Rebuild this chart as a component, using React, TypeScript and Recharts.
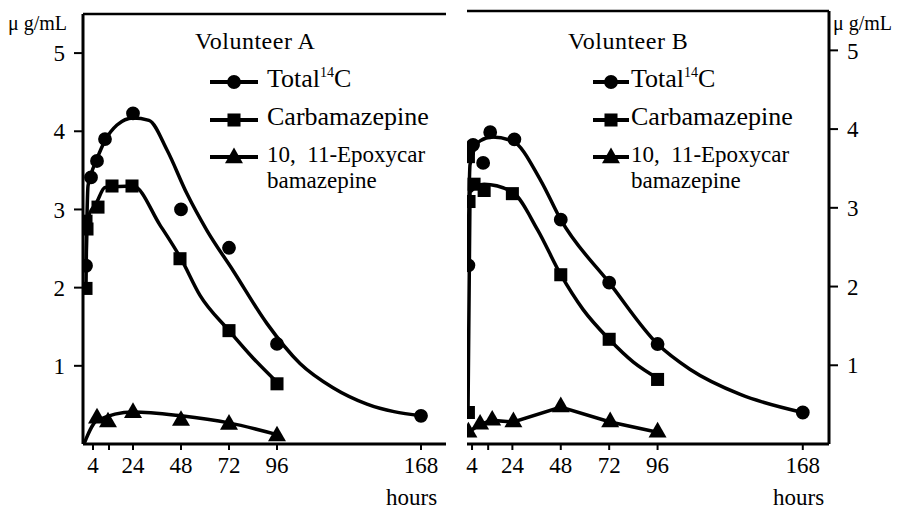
import { ComposedChart, Line, Scatter, Symbols, XAxis, YAxis } from "recharts";

const hourTicks = [4, 12, 24, 48, 72, 96, 168];
const concTicks = [1, 2, 3, 4, 5];

// Volunteer A – measured points (hours, µg/mL)
const totalA = [
  { t: 0.5, v: 2.28 }, { t: 3, v: 3.41 }, { t: 6, v: 3.62 }, { t: 10, v: 3.9 },
  { t: 24, v: 4.23 }, { t: 48, v: 3.0 }, { t: 72, v: 2.51 }, { t: 96, v: 1.28 },
  { t: 168, v: 0.36 },
];
const carbA = [
  { t: 0.5, v: 1.99 }, { t: 0.5, v: 2.85 }, { t: 1, v: 2.75 }, { t: 6.5, v: 3.03 },
  { t: 13.5, v: 3.3 }, { t: 23.5, v: 3.3 }, { t: 47.5, v: 2.37 }, { t: 72, v: 1.45 },
  { t: 96, v: 0.77 },
];
const epoxA = [
  { t: 6, v: 0.33 }, { t: 11.5, v: 0.28 }, { t: 24, v: 0.4 }, { t: 48, v: 0.3 },
  { t: 72, v: 0.25 }, { t: 96, v: 0.1 },
];
// Volunteer A – fitted curves
const totalFitA = [
  { t: 0.5, v: 2.28 }, { t: 1.5, v: 3.3 }, { t: 3, v: 3.45 }, { t: 6, v: 3.65 },
  { t: 10, v: 3.88 }, { t: 16, v: 4.08 }, { t: 24, v: 4.17 }, { t: 32, v: 4.14 },
  { t: 41, v: 3.76 }, { t: 51, v: 3.2 }, { t: 61, v: 2.73 }, { t: 74, v: 2.22 },
  { t: 91, v: 1.54 }, { t: 107.5, v: 1.03 }, { t: 124, v: 0.72 }, { t: 141, v: 0.51 },
  { t: 168, v: 0.36 },
];
const carbFitA = [
  { t: 0.5, v: 2.0 }, { t: 1, v: 2.85 }, { t: 6, v: 3.1 }, { t: 10, v: 3.28 },
  { t: 24, v: 3.3 }, { t: 37.5, v: 2.8 }, { t: 48, v: 2.37 },
  { t: 57.5, v: 1.9 }, { t: 72, v: 1.45 }, { t: 84, v: 1.1 }, { t: 96, v: 0.79 },
];
const epoxFitA = [
  { t: -0.5, v: 0.0 }, { t: 6, v: 0.3 }, { t: 24, v: 0.41 }, { t: 48, v: 0.36 },
  { t: 72, v: 0.27 }, { t: 96, v: 0.12 },
];

// Volunteer B – measured points
const totalB = [
  { t: 2.2, v: 2.27 }, { t: 2, v: 3.7 }, { t: 4.5, v: 3.8 }, { t: 9.5, v: 3.57 },
  { t: 13, v: 3.96 }, { t: 25, v: 3.87 }, { t: 48, v: 2.85 }, { t: 72, v: 2.05 },
  { t: 96, v: 1.27 }, { t: 168, v: 0.4 },
];
const carbB = [
  { t: 2.2, v: 0.4 }, { t: 2.5, v: 3.08 }, { t: 2.2, v: 3.65 }, { t: 5, v: 3.3 },
  { t: 10, v: 3.22 }, { t: 24, v: 3.18 }, { t: 48, v: 2.15 }, { t: 72, v: 1.33 },
  { t: 96, v: 0.82 },
];
const epoxB = [
  { t: 2.2, v: 0.15 }, { t: 8, v: 0.25 }, { t: 14, v: 0.3 }, { t: 24.5, v: 0.28 },
  { t: 48, v: 0.47 }, { t: 72.5, v: 0.28 }, { t: 96, v: 0.15 },
];
// Volunteer B – fitted curves
const totalFitB = [
  { t: 2, v: 2.27 }, { t: 3, v: 3.55 }, { t: 8, v: 3.85 }, { t: 14, v: 3.9 },
  { t: 24, v: 3.85 }, { t: 38, v: 3.35 }, { t: 48, v: 2.85 }, { t: 72, v: 2.05 },
  { t: 96, v: 1.27 }, { t: 112, v: 0.95 }, { t: 137, v: 0.63 }, { t: 168, v: 0.4 },
];
const carbFitB = [
  { t: 2, v: 0.4 }, { t: 3, v: 3.2 }, { t: 10, v: 3.3 }, { t: 24, v: 3.2 },
  { t: 36.5, v: 2.72 }, { t: 48, v: 2.15 }, { t: 59, v: 1.71 }, { t: 72, v: 1.33 },
  { t: 84, v: 1.04 }, { t: 97, v: 0.82 },
];
const epoxFitB = epoxB;

const font = '"Liberation Serif", "DejaVu Serif", serif';
const tickStyle = { fill: "#000", fontSize: 23, fontFamily: font };
const hourLabel = (v: number) => (v === 12 ? "" : String(v));

const SIZES = { circle: 150, square: 170, triangle: 140 };

const marker = (type: "circle" | "square" | "triangle") => (p: any) =>
  <Symbols cx={p.cx} cy={p.cy} type={type} size={SIZES[type]} fill="#000" />;

function Panel({ side, left, width, top, domain, total, carb, epox, totalFit, carbFit, epoxFit, epoxLinear }: any) {
  const isA = side === "A";
  const margin = isA
    ? { top: top - 1, right: 14, bottom: 27, left: 23 }
    : { top: top - 1, right: 8, bottom: 27, left: 27 };
  const axisLine = { stroke: "#000", strokeWidth: 3 };
  const frameLine = { stroke: "#000", strokeWidth: 2.5 };
  const common = { xAxisId: "h", yAxisId: "c", isAnimationActive: false };
  return (
    <div style={{ position: "absolute", left, top: 0 }}>
      <ComposedChart width={width} height={511} margin={margin}>
        <XAxis
          xAxisId="h" dataKey="t" type="number" domain={domain} allowDataOverflow
          ticks={hourTicks} interval={0} tickFormatter={hourLabel}
          axisLine={axisLine} tickLine={{ stroke: "#000", strokeWidth: 2 }}
          tickSize={6} tickMargin={7} height={40} tick={tickStyle}
        />
        <XAxis
          xAxisId="top" orientation="top" type="number" domain={domain} allowDataOverflow
          tick={false} tickLine={false} height={1} axisLine={frameLine}
        />
        <YAxis
          yAxisId="c" orientation={isA ? "left" : "right"} type="number" domain={[0, 5.5]}
          allowDataOverflow ticks={concTicks} interval={0} width={isA ? 60 : 70}
          axisLine={axisLine} tickLine={{ stroke: "#000", strokeWidth: 2 }}
          tickSize={9} tickMargin={9} tick={tickStyle}
        />
        <YAxis
          yAxisId="frame" orientation={isA ? "right" : "left"} type="number" domain={[0, 5.5]}
          tick={false} tickLine={false} width={0} axisLine={frameLine}
        />
        <Line {...common} data={totalFit} dataKey="v" type="monotone" stroke="#000" strokeWidth={3.5} dot={false} />
        <Line {...common} data={carbFit} dataKey="v" type="monotone" stroke="#000" strokeWidth={3.5} dot={false} />
        <Line {...common} data={epoxFit} dataKey="v" type={epoxLinear ? "linear" : "monotone"} stroke="#000" strokeWidth={3.5} dot={false} />
        <Scatter {...common} data={total} dataKey="v" shape={marker("circle")} />
        <Scatter {...common} data={carb} dataKey="v" shape={marker("square")} />
        <Scatter {...common} data={epox} dataKey="v" shape={marker("triangle")} />
      </ComposedChart>
    </div>
  );
}

function Key({ x, y, w, type }: { x: number; y: number; w: number; type: "circle" | "square" | "triangle" }) {
  return (
    <svg style={{ position: "absolute", left: x, top: y - 12 }} width={w} height={24}>
      <line x1={0} y1={12} x2={w} y2={12} stroke="#000" strokeWidth={4} />
      <Symbols cx={w / 2} cy={type === "triangle" ? 13 : 12} type={type} size={SIZES[type]} fill="#000" />
    </svg>
  );
}

const text = (x: number, y: number, size: number, content: any, extra: any = {}) => (
  <div
    style={{
      position: "absolute", left: x, top: y - size * 0.6, fontFamily: font, fontSize: size,
      lineHeight: 1, whiteSpace: "nowrap", color: "#000", ...extra,
    }}
  >
    {content}
  </div>
);

const totalLabel = (
  <span>
    Total<sup style={{ fontSize: 14, verticalAlign: 0, position: "relative", top: -10 }}>14</sup>C
  </span>
);

function Legend({ x, keyW, textX, title, titleX }: any) {
  return (
    <>
      {text(titleX, 43, 24, title, { letterSpacing: 0.5 })}
      <Key x={x} y={82} w={keyW} type="circle" />
      <Key x={x} y={120} w={keyW} type="square" />
      <Key x={x} y={157} w={keyW} type="triangle" />
      {text(textX, 82, 26, totalLabel)}
      {text(textX, 120, 26, "Carbamazepine")}
      {text(textX, 157, 23, "10,\u00a0 11-Epoxycar")}
      {text(textX, 183, 23, "bamazepine")}
    </>
  );
}

export default function App() {
  return (
    <div style={{ position: "absolute", left: 0, top: 0, width: 907, height: 511, background: "#fff", overflow: "hidden" }}>
      <Panel
        side="A" left={0} width={460} top={14} domain={[-1, 180.5]}
        total={totalA} carb={carbA} epox={epoxA}
        totalFit={totalFitA} carbFit={carbFitA} epoxFit={epoxFitA}
      />
      <Panel
        side="B" left={440} width={467} top={11} domain={[1.5, 181]}
        total={totalB} carb={carbB} epox={epoxB}
        totalFit={totalFitB} carbFit={carbFitB} epoxFit={epoxFitB} epoxLinear
      />
      {text(8, 25, 20, "\u03bc g/mL")}
      {text(833, 25, 20, "\u03bc g/mL")}
      {text(386, 500, 23, "hours")}
      {text(773, 500, 23, "hours")}
      <Legend x={210} keyW={48} textX={267} title="Volunteer A" titleX={195} />
      <Legend x={593} keyW={36} textX={631} title="Volunteer B" titleX={568} />
    </div>
  );
}
